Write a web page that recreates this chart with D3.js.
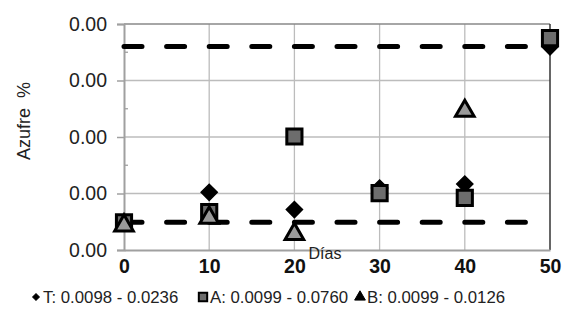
<!DOCTYPE html>
<html>
<head>
<meta charset="utf-8">
<script src="https://cdn.jsdelivr.net/npm/d3@7"></script>
<style>
  body { margin: 0; background: #fff; }
  svg { font-family: "Liberation Sans", Arial, sans-serif; }
</style>
</head>
<body>
<svg id="chart" width="570" height="323"></svg>
<script>
// data
const days = [0, 10, 20, 30, 40, 50];
const seriesT = [0.0098, 0.0212, 0.0147, 0.0228, 0.0243, 0.0759];
const seriesA = [0.0099, 0.0138, 0.0422, 0.0209, 0.0191, 0.0792];
const seriesB = [0.0087, 0.0116, 0.0055, null, 0.0518, null];
const limits = [0.0099, 0.0760];
const xTicks = [0, 10, 20, 30, 40, 50];
const yTicks = [-0.0005, 0.02075, 0.042, 0.06325, 0.0845];
const yTickLabels = ["0.00", "0.00", "0.00", "0.00", "0.00"];
const legendLabels = ["T: 0.0098 - 0.0236", "A: 0.0099 - 0.0760", "B: 0.0099 - 0.0126"];

const margin = { left: 124, right: 20, top: 24, bottom: 73 };
const width = 570 - margin.left - margin.right;
const height = 323 - margin.top - margin.bottom;

const svg = d3.select('#chart');
const g = svg.append('g')
  .attr('transform', 'translate(' + margin.left + ',' + margin.top + ')');

const x = d3.scaleLinear().domain([0, 50]).range([0, width]);
const y = d3.scaleLinear().domain([-0.0005, 0.0845]).range([height, 0]);

// grid
g.selectAll('.vgrid')
  .data(xTicks.slice(1, -1))
  .enter().append('line')
  .attr('x1', d => x(d)).attr('x2', d => x(d))
  .attr('y1', 0).attr('y2', height)
  .attr('stroke', '#bcbcbc').attr('stroke-width', 1.3);

g.selectAll('.hgrid')
  .data(yTicks.slice(1, -1))
  .enter().append('line')
  .attr('x1', 0).attr('x2', width)
  .attr('y1', d => y(d)).attr('y2', d => y(d))
  .attr('stroke', '#bcbcbc').attr('stroke-width', 1.3);

// frame: top grey, right dark
g.append('line').attr('x1', 0).attr('x2', width).attr('y1', 0).attr('y2', 0)
  .attr('stroke', '#888').attr('stroke-width', 1.5);
g.append('line').attr('x1', width).attr('x2', width).attr('y1', 0).attr('y2', height)
  .attr('stroke', '#333').attr('stroke-width', 1.5);

// y axis
const yAxis = g.append('g')
  .call(d3.axisLeft(y).tickValues(yTicks).tickSize(7).tickPadding(10)
    .tickFormat((d, i) => yTickLabels[i]));
yAxis.select('.domain').attr('stroke', '#a0a0a0').attr('stroke-width', 2);
yAxis.selectAll('.tick line').attr('stroke', '#a0a0a0').attr('stroke-width', 1.5);
yAxis.selectAll('text')
  .attr('fill', '#222')
  .style('font-size', '19.5px')
  .style('font-family', '"Liberation Sans", Arial, sans-serif');

// minor ticks inside
const minor = d3.pairs(yTicks).map(p => (p[0] + p[1]) / 2);
g.selectAll('.minor')
  .data(minor)
  .enter().append('line')
  .attr('x1', 0).attr('x2', 4)
  .attr('y1', d => y(d)).attr('y2', d => y(d))
  .attr('stroke', '#a0a0a0').attr('stroke-width', 1.3);

// x axis
const xAxis = g.append('g')
  .attr('transform', 'translate(0,' + height + ')')
  .call(d3.axisBottom(x).tickValues(xTicks).tickSize(0).tickPadding(9));
xAxis.select('.domain').attr('stroke', '#a0a0a0').attr('stroke-width', 2);
xAxis.selectAll('text')
  .attr('fill', '#111')
  .style('font-size', '19.5px')
  .style('font-weight', 'bold')
  .style('font-family', '"Liberation Sans", Arial, sans-serif');

// axis titles
g.append('text')
  .attr('x', 201).attr('y', height + 9)
  .attr('text-anchor', 'middle')
  .style('font-size', '16px')
  .attr('fill', '#222')
  .text('Días');

svg.append('text')
  .attr('transform', 'translate(30,121) rotate(-90)')
  .attr('text-anchor', 'middle')
  .style('font-size', '18px')
  .attr('fill', '#222')
  .attr('xml:space', 'preserve')
  .text('Azufre  %');

// limit lines
g.selectAll('.limit')
  .data(limits)
  .enter().append('line')
  .attr('x1', 0).attr('x2', width - 14)
  .attr('y1', d => y(d)).attr('y2', d => y(d))
  .attr('stroke', '#000').attr('stroke-width', 5)
  .attr('stroke-linecap', 'round')
  .attr('stroke-dasharray', '18,24.6');

// markers (diamond = square turned 45deg)
const diamond = d3.symbol().type(d3.symbolSquare).size(130);
const square = d3.symbol().type(d3.symbolSquare).size(230);
const triangle = d3.symbol().type(d3.symbolTriangle).size(150);

function drawSeries(vals, sym, fill, sw, rot) {
  g.selectAll(null)
    .data(days.map((d, i) => [d, vals[i]]).filter(p => p[1] != null))
    .enter().append('path')
    .attr('d', sym)
    .attr('transform', p => 'translate(' + x(p[0]) + ',' + y(p[1]) + ') rotate(' + rot + ')')
    .attr('fill', fill)
    .attr('stroke', '#000')
    .attr('stroke-width', sw)
    .attr('stroke-linejoin', 'miter');
}
drawSeries(seriesT, diamond, '#000', 1.5, 45);
drawSeries(seriesA, square, '#6d6d6d', 3, 0);
drawSeries(seriesB, triangle, '#9a9a9a', 3, 0);

// legend
const legendX = [43, 210, 367];
const legendSyms = [
  d3.symbol().type(d3.symbolSquare).size(22),
  d3.symbol().type(d3.symbolSquare).size(70),
  d3.symbol().type(d3.symbolTriangle).size(50)
];
const legendRot = [45, 0, 0];
const legendFill = ['#000', '#6d6d6d', '#000'];
const leg = svg.append('g');
legendLabels.forEach((lab, i) => {
  leg.append('path')
    .attr('d', legendSyms[i])
    .attr('transform', 'translate(' + (legendX[i] - 7) + ',297) rotate(' + legendRot[i] + ')')
    .attr('fill', legendFill[i])
    .attr('stroke', '#000')
    .attr('stroke-width', i === 1 ? 2 : 1);
  leg.append('text')
    .attr('x', legendX[i]).attr('y', 303)
    .style('font-size', '16.8px')
    .attr('fill', '#222')
    .text(lab);
});
</script>
</body>
</html>
